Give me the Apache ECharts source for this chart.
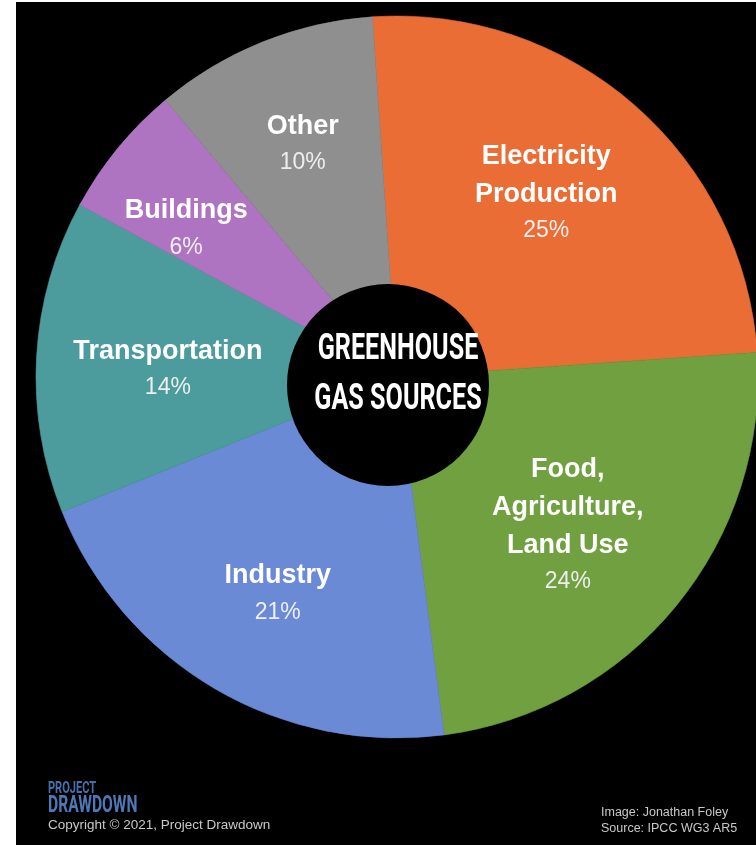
<!DOCTYPE html>
<html>
<head>
<meta charset="utf-8">
<script src="https://cdn.jsdelivr.net/npm/echarts@6/dist/echarts.min.js"></script>
<style>
  html, body { margin: 0; padding: 0; background: #ffffff; }
  #wrap { position: relative; width: 756px; height: 845px; background: #ffffff; overflow: hidden; }
  #chart { position: absolute; left: 16px; top: 2px; width: 740px; height: 843px; }
</style>
</head>
<body>
<div id="wrap"><div id="chart"></div></div>
<script>
// ---- data ----
var categories = ['Electricity\nProduction', 'Food,\nAgriculture,\nLand Use', 'Industry', 'Transportation', 'Buildings', 'Other'];
var shares = [25, 24, 21, 14, 6, 10];
var colors = ['#EA6D35', '#71A041', '#6A8AD5', '#4C9B9D', '#AF74C1', '#8F8F8F'];
var centerTitle = ['GREENHOUSE', 'GAS SOURCES'];

// label nudges (styling only)
var labelOffsets = [[-1, -12], [-6, 3], [-4, 19], [-1, 5], [-34, -4], [-9, -21]];

var chart = echarts.init(document.getElementById('chart'), null, { renderer: 'canvas' });

var data = categories.map(function (c, i) {
  return {
    name: c,
    value: shares[i],
    itemStyle: { color: colors[i], borderColor: colors[i], borderWidth: 0.6 },
    label: { offset: labelOffsets[i] }
  };
});

var labelFont = '"Liberation Sans", Arial, Helvetica, sans-serif';
var condFont = 'Roboto, "Liberation Sans", sans-serif';

var option = {
  backgroundColor: '#000000',
  animation: false,
  series: [{
    type: 'pie',
    center: [381, 375],
    radius: [90, 361],
    startAngle: 93.9,
    clockwise: true,
    avoidLabelOverlap: false,
    emphasis: { disabled: true },
    label: {
      show: true,
      position: 'inside',
      formatter: function (p) {
        var lines = p.name.split('\n').map(function (l) { return '{n|' + l + '}'; });
        lines.push('{p|' + p.value + '%}');
        return lines.join('\n');
      },
      rich: {
        n: { fontFamily: labelFont, fontWeight: 'bold', fontSize: 27, color: '#ffffff', lineHeight: 38 },
        p: { fontFamily: labelFont, fontWeight: 'normal', fontSize: 23, color: '#eeeeee', lineHeight: 35 }
      }
    },
    labelLine: { show: false },
    data: data
  }],
  graphic: [
    { type: 'circle', z: 90, shape: { cx: 372, cy: 383, r: 101 }, style: { fill: '#000000' } },
    { type: 'text', z: 100, x: 382, y: 348, scaleX: 0.68,
      style: { text: centerTitle[0], fill: '#ffffff', font: 'bold 37px ' + condFont, textAlign: 'center', textVerticalAlign: 'middle' } },
    { type: 'text', z: 100, x: 382, y: 398, scaleX: 0.68,
      style: { text: centerTitle[1], fill: '#ffffff', font: 'bold 37px ' + condFont, textAlign: 'center', textVerticalAlign: 'middle' } },
    { type: 'text', z: 100, x: 32, y: 787, scaleX: 0.65,
      style: { text: 'PROJECT', fill: '#4870AE', font: 'bold 17px ' + condFont, textAlign: 'left', textVerticalAlign: 'middle' } },
    { type: 'text', z: 100, x: 32, y: 804, scaleX: 0.65,
      style: { text: 'DRAWDOWN', fill: '#4E79B9', font: 'bold 24px ' + condFont, textAlign: 'left', textVerticalAlign: 'middle' } },
    { type: 'text', z: 100, x: 32, y: 823,
      style: { text: 'Copyright \u00A9 2021, Project Drawdown', fill: '#c8c8c8', font: '13.5px ' + labelFont, textAlign: 'left', textVerticalAlign: 'middle' } },
    { type: 'text', z: 100, x: 585, y: 811,
      style: { text: 'Image: Jonathan Foley', fill: '#c8c8c8', font: '12.5px ' + labelFont, textAlign: 'left', textVerticalAlign: 'middle' } },
    { type: 'text', z: 100, x: 585, y: 827,
      style: { text: 'Source: IPCC WG3 AR5', fill: '#c8c8c8', font: '12.5px ' + labelFont, textAlign: 'left', textVerticalAlign: 'middle' } }
  ]
};
chart.setOption(option);
</script>
</body>
</html>
